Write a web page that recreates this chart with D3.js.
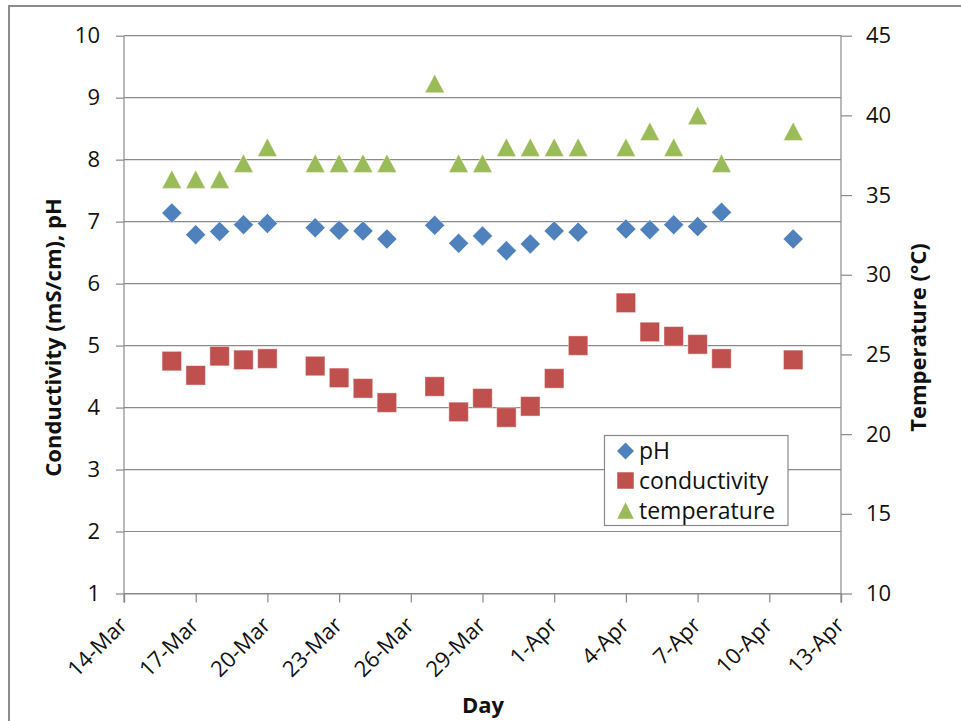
<!DOCTYPE html>
<html>
<head>
<meta charset="utf-8">
<script src="https://cdn.jsdelivr.net/npm/d3@7"></script>
<style>
  html, body { margin: 0; padding: 0; background: #fff; }
  svg { display: block; font-family: "Open Sans", "Liberation Sans", sans-serif; }
</style>
</head>
<body>
<svg id="chart" width="961" height="721"></svg>
<script>
// Sampling days
const dates = [
  "2010-03-16","2010-03-17","2010-03-18","2010-03-19","2010-03-20",
  "2010-03-22","2010-03-23","2010-03-24","2010-03-25",
  "2010-03-27","2010-03-28","2010-03-29","2010-03-30","2010-03-31",
  "2010-04-01","2010-04-02",
  "2010-04-04","2010-04-05","2010-04-06","2010-04-07","2010-04-08",
  "2010-04-11"
];
const pH = [7.14, 6.79, 6.84, 6.95, 6.97, 6.90, 6.86, 6.85, 6.72, 6.94, 6.65, 6.77,
            6.53, 6.64, 6.85, 6.83, 6.88, 6.87, 6.95, 6.92, 7.15, 6.72];
const conductivity = [4.75, 4.52, 4.83, 4.77, 4.79, 4.67, 4.48, 4.31, 4.08, 4.34, 3.93, 4.15,
                      3.84, 4.02, 4.47, 5.00, 5.69, 5.22, 5.15, 5.02, 4.79, 4.77];
const temperature = [36, 36, 36, 37, 38, 37, 37, 37, 37, 42, 37, 37,
                     38, 38, 38, 38, 38, 39, 38, 40, 37, 39];

const xTickLabels = ["14-Mar","17-Mar","20-Mar","23-Mar","26-Mar","29-Mar","1-Apr","4-Apr","7-Apr","10-Apr","13-Apr"];
const leftTicks = [1, 2, 3, 4, 5, 6, 7, 8, 9, 10];
const rightTicks = [10, 15, 20, 25, 30, 35, 40, 45];
const seriesNames = ["pH", "conductivity", "temperature"];
const seriesColors = ["#4F81BD", "#C0504D", "#9BBB59"];

const parseDay = d3.timeParse("%Y-%m-%d");
const parseTick = s => d3.timeParse("%d-%b-%Y")(s + "-2010");
const days = dates.map(parseDay);
const tickDates = xTickLabels.map(parseTick);

const svg = d3.select("#chart");
const W = 961, H = 721;
const plot = { left: 124, right: 841, top: 35.7, bottom: 593.5 };
const midY = 337.5;

const x = d3.scaleTime()
  .domain([tickDates[0], tickDates[tickDates.length - 1]])
  .range([plot.left, plot.right]);
const yL = d3.scaleLinear().domain([1, 10]).range([plot.bottom, plot.top]);
const yR = d3.scaleLinear().domain([10, 45]).range([plot.bottom, plot.top]);

const gridColor = "#8a8a8a";

// outer frame
svg.append("rect")
  .attr("x", 9).attr("y", 6).attr("width", W).attr("height", H)
  .attr("fill", "none").attr("stroke", "#8c8c8c").attr("stroke-width", 2);

// horizontal gridlines
svg.append("g")
  .selectAll("line")
  .data(leftTicks)
  .join("line")
  .attr("x1", plot.left).attr("x2", plot.right)
  .attr("y1", d => yL(d)).attr("y2", d => yL(d))
  .attr("stroke", gridColor).attr("stroke-width", 1.2);

// left axis
const leftAxis = svg.append("g")
  .attr("transform", `translate(${plot.left},0)`)
  .call(d3.axisLeft(yL).tickValues(leftTicks).tickSize(8).tickPadding(16).tickFormat(d3.format("d")));

// right axis
const rightAxis = svg.append("g")
  .attr("transform", `translate(${plot.right},0)`)
  .call(d3.axisRight(yR).tickValues(rightTicks).tickSize(11).tickPadding(14).tickFormat(d3.format("d")));

// bottom axis
const bottomAxis = svg.append("g")
  .attr("transform", `translate(0,${plot.bottom})`)
  .call(d3.axisBottom(x).tickValues(tickDates).tickSize(9).tickFormat((d, i) => xTickLabels[i]));

[leftAxis, rightAxis, bottomAxis].forEach(g => {
  g.select(".domain").attr("stroke", gridColor).attr("stroke-width", 1.2);
  g.selectAll(".tick line").attr("stroke", gridColor).attr("stroke-width", 1.2);
  g.selectAll(".tick text").attr("fill", "#111").attr("font-size", 22)
    .attr("font-family", "'Open Sans', sans-serif");
});
leftAxis.select(".domain").attr("d", `M0,${plot.top}V${plot.bottom + 9}`);
rightAxis.select(".domain").attr("d", `M0,${plot.top}V${plot.bottom + 9}`);

bottomAxis.selectAll(".tick text")
  .attr("text-anchor", "end")
  .attr("dy", null)
  .attr("y", 0)
  .attr("transform", "translate(4,33) rotate(-45)");

// axis titles
svg.append("text")
  .attr("transform", `translate(61,${midY}) rotate(-90)`)
  .attr("text-anchor", "middle").attr("font-weight", "bold").attr("font-size", 22)
  .attr("fill", "#111")
  .text("Conductivity (mS/cm), pH");
svg.append("text")
  .attr("transform", `translate(926,${midY}) rotate(-90)`)
  .attr("text-anchor", "middle").attr("font-weight", "bold").attr("font-size", 22)
  .attr("fill", "#111")
  .text("Temperature (°C)");
svg.append("text")
  .attr("x", 483).attr("y", 713)
  .attr("text-anchor", "middle").attr("font-weight", "bold").attr("font-size", 22)
  .attr("fill", "#111")
  .text("Day");

// marker shapes, centred on the origin
function diamondPath(s) { // s = full diagonal
  const h = s / 2;
  return `M0,${-h}L${h},0L0,${h}L${-h},0Z`;
}
function squarePath(s) {
  const h = s / 2;
  return `M${-h},${-h}H${h}V${h}H${-h}Z`;
}
function trianglePath(w, ht) {
  return `M0,${-ht / 2}L${w / 2},${ht / 2}L${-w / 2},${ht / 2}Z`;
}
const shapes = [
  () => diamondPath(20),
  () => squarePath(19.5),
  () => trianglePath(19.5, 18.5)
];
const legendShapes = [
  () => diamondPath(17),
  () => squarePath(16.5),
  () => trianglePath(16.5, 16.5)
];

const seriesData = [
  pH.map((v, i) => [x(days[i]), yL(v)]),
  conductivity.map((v, i) => [x(days[i]), yL(v)]),
  temperature.map((v, i) => [x(days[i]), yR(v)])
];

seriesData.forEach((pts, si) => {
  svg.append("g")
    .selectAll("path")
    .data(pts)
    .join("path")
    .attr("transform", d => `translate(${d[0]},${d[1]})`)
    .attr("d", shapes[si]())
    .attr("fill", seriesColors[si])
    .attr("stroke", "#fff").attr("stroke-opacity", 0.45).attr("stroke-width", 1);
});

// legend
const legend = svg.append("g");
legend.append("rect")
  .attr("x", 604.5).attr("y", 435.5).attr("width", 183.5).attr("height", 90)
  .attr("fill", "#fff").attr("stroke", gridColor).attr("stroke-width", 1.2);
const rowY = [451, 480.5, 510.5];
seriesNames.forEach((name, i) => {
  legend.append("path")
    .attr("transform", `translate(625.5,${rowY[i]})`)
    .attr("d", legendShapes[i]())
    .attr("fill", seriesColors[i]);
  legend.append("text")
    .attr("x", 639).attr("y", rowY[i]).attr("dy", "0.35em")
    .attr("font-size", 23).attr("fill", "#111")
    .text(name);
});
</script>
</body>
</html>
